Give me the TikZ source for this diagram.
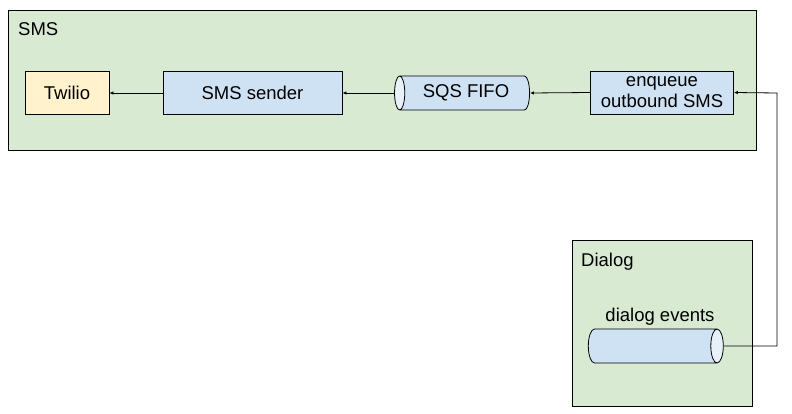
\documentclass[tikz,border=0pt]{standalone}
\usepackage{fontspec}
\setmainfont{Liberation Sans}
\usetikzlibrary{positioning,arrows.meta,shapes.geometric}
\definecolor{colorgroup}    {RGB}{217,234,211}
\definecolor{colorservice}  {RGB}{207,226,243}
\definecolor{colorqueueend} {RGB}{232,240,250}
\definecolor{colorexternal} {RGB}{255,242,204}
\definecolor{colortext}     {RGB}{  0,  0,  0}

\begin{document}
\begin{tikzpicture}[
    x=1pt, y=1pt,
    font={\fontsize{18.5}{21}\selectfont},
    >={Latex[length=4pt,width=3.5pt]},
    base/.style={text=colortext,draw=black,line width=0.8pt,inner sep=2pt,align=center,rectangle},
    group/.style={base,fill=colorgroup,anchor=north west},
    grouplabel/.style={text=colortext,anchor=north west,inner sep=0pt},
    service/.style={base,fill=colorservice,minimum height=43},
    external/.style={base,fill=colorexternal,minimum height=43},
    queue/.style={base,cylinder,shape aspect=0.5,cylinder uses custom fill,
        cylinder body fill=colorservice,cylinder end fill=colorqueueend,
        minimum width=34,minimum height=135},
    link/.style={->,line width=0.8pt},
]
    \useasboundingbox (0,0) rectangle (792,-414);

    \node[group,minimum width=748,minimum height=140] (sms)    at (8,-10)   {};
    \node[group,minimum width=180,minimum height=166] (dialog) at (572,-240) {};
    \node[grouplabel] (smslabel)    at (18,-22)  {SMS};
    \node[grouplabel] (dialoglabel) at (581,-253) {Dialog};

    \node[external,minimum width=84]  (twilio)  at (67,-93)    {Twilio};
    \node[service,minimum width=179]  (sender)  at (252.5,-93) {SMS sender};
    \node[queue,shape border rotate=180] (sqs)  at (466,-93)   {SQS FIFO};
    \node[service,minimum width=143]  (enqueue) at (662,-92.5) {enqueue\\outbound SMS};

    \node[queue,label={[xshift=9pt]above:dialog events}] (events) at (651,-346) {\strut};
    \coordinate (turn) at (777,-93);

    \draw[link] (sender.west)  -- (twilio.east);
    \draw[link] (sqs.top)      -- (sender.east);
    \draw[link] (enqueue.west) -- (sqs.bottom);
    \draw[link] (events.top) -| (turn) -- (enqueue.east);

\end{tikzpicture}
\end{document}
